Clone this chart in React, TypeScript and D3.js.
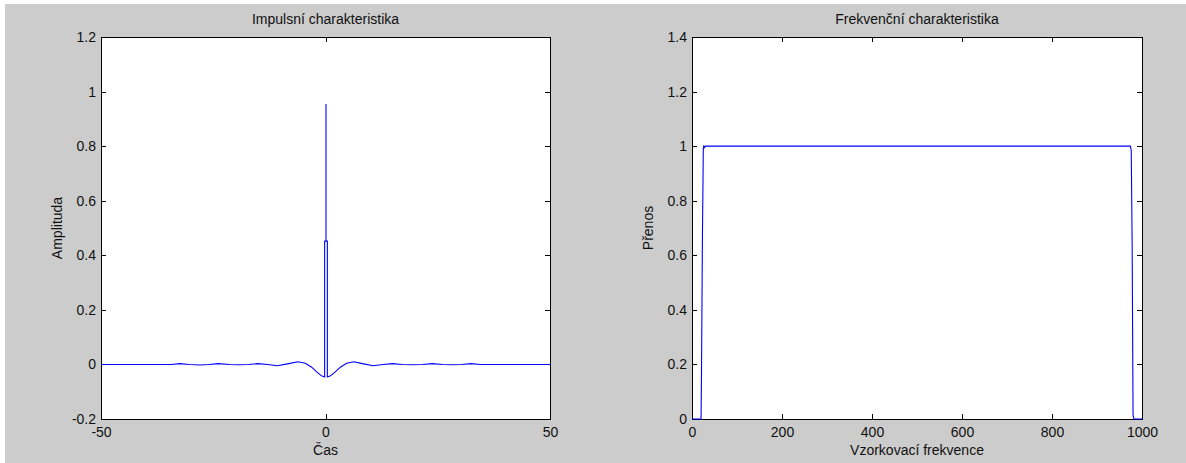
import { useEffect, useRef } from "react";
import * as d3 from "d3";

const W = 1186;
const H = 463;

// Impulsní charakteristika (time, amplitude)
const IMP_T = [
  -50, -34.5, -32.6, -30.5, -28, -26, -24, -21.5, -19.4, -17.2, -15.2, -13, -10.8, -8.6,
  -6.3, -4.6, -3.2, -2, -1, -0.3, -0.3, 0, 0, 0, 0.3, 0.3, 1, 2, 3.2, 4.6, 6.2, 8.4, 10.5,
  12.7, 14.8, 17, 19.3, 21.5, 23.7, 26, 28, 30.2, 32.3, 34.3, 50,
];
const IMP_A = [
  0, 0, 0.003, 0, -0.002, 0, 0.003, 0, -0.001, 0, 0.003, 0, -0.005, 0.002,
  0.01, 0.004, -0.01, -0.028, -0.042, -0.046, 0.452, 0.452, 0.954, 0.452, 0.452, -0.046,
  -0.042, -0.028, -0.01, 0.004, 0.01, 0.002, -0.005, 0, 0.003, 0, -0.001, 0, 0.003, 0,
  -0.001, 0, 0.003, 0, 0,
];

// Frekvenční charakteristika (frequency, transfer)
const FRQ_F = [0, 19, 20, 22, 24, 25, 27, 28, 500, 973, 975, 977, 979, 981, 983, 1000];
const FRQ_P = [0, 0, 0.17, 0.65, 0.99, 1, 0.995, 1, 1, 1, 0.985, 0.64, 0.015, 0, 0, 0];

const IMP_X_TICKS = [-50, 0, 50];
const IMP_Y_TICKS = [-0.2, 0, 0.2, 0.4, 0.6, 0.8, 1, 1.2];
const FRQ_X_TICKS = [0, 200, 400, 600, 800, 1000];
const FRQ_Y_TICKS = [0, 0.2, 0.4, 0.6, 0.8, 1, 1.2, 1.4];

const FONT = "Arial, 'Liberation Sans', Helvetica, sans-serif";
const FS = "14px";

type Panel = {
  left: number;
  right: number;
  xDomain: [number, number];
  yDomain: [number, number];
  xTicks: number[];
  yTicks: number[];
  xs: number[];
  ys: number[];
  title: string;
  xLabel: string;
  yLabel: string;
  yLabelX: number;
};

const TOP = 37;
const BOTTOM = 419;

const PANELS: Panel[] = [
  {
    left: 101,
    right: 550,
    xDomain: [-50, 50],
    yDomain: [-0.2, 1.2],
    xTicks: IMP_X_TICKS,
    yTicks: IMP_Y_TICKS,
    xs: IMP_T,
    ys: IMP_A,
    title: "Impulsní charakteristika",
    xLabel: "Čas",
    yLabel: "Amplituda",
    yLabelX: 62,
  },
  {
    left: 692,
    right: 1142,
    xDomain: [0, 1000],
    yDomain: [0, 1.4],
    xTicks: FRQ_X_TICKS,
    yTicks: FRQ_Y_TICKS,
    xs: FRQ_F,
    ys: FRQ_P,
    title: "Frekvenční charakteristika",
    xLabel: "Vzorkovací frekvence",
    yLabel: "Přenos",
    yLabelX: 653,
  },
];

export default function App() {
  const svgRef = useRef<SVGSVGElement>(null);

  useEffect(() => {
    const svg = d3.select(svgRef.current);
    if (!svg.node()) return;
    svg.selectAll("*").remove();

    svg.append("rect").attr("width", W).attr("height", H).attr("fill", "#ffffff");
    svg
      .append("rect")
      .attr("x", 5)
      .attr("y", 4)
      .attr("width", W - 5)
      .attr("height", H - 4)
      .attr("fill", "#cccccc");

    PANELS.forEach((p) => {
      const x = d3.scaleLinear().domain(p.xDomain).range([p.left, p.right]);
      const y = d3.scaleLinear().domain(p.yDomain).range([BOTTOM, TOP]);
      // curve scale nudged onto pixel centres so thin vertical strokes stay crisp
      const xc = d3.scaleLinear().domain(p.xDomain).range([p.left + 0.5, p.right + 0.5]);
      const g = svg.append("g");

      g.append("rect")
        .attr("x", p.left)
        .attr("y", TOP)
        .attr("width", p.right - p.left)
        .attr("height", BOTTOM - TOP)
        .attr("fill", "#ffffff");

      const fmt = (d: d3.NumberValue) => String(d);
      const style = (sel: d3.Selection<SVGGElement, unknown, null, undefined>) => {
        sel.select(".domain").remove();
        sel.selectAll("line").attr("stroke", "#000").attr("shape-rendering", "crispEdges");
        sel
          .selectAll("text")
          .attr("fill", "#111")
          .style("font-family", FONT)
          .style("font-size", FS);
      };

      g.append("g")
        .attr("transform", `translate(0,${BOTTOM})`)
        .call(d3.axisBottom(x).tickValues(p.xTicks).tickFormat(fmt).tickSizeInner(-5).tickSizeOuter(0).tickPadding(8))
        .call(style);
      g.append("g")
        .attr("transform", `translate(0,${TOP})`)
        .call(d3.axisTop(x).tickValues(p.xTicks).tickFormat(() => "").tickSizeInner(-5).tickSizeOuter(0))
        .call(style);
      g.append("g")
        .attr("transform", `translate(${p.left},0)`)
        .call(d3.axisLeft(y).tickValues(p.yTicks).tickFormat(fmt).tickSizeInner(-5).tickSizeOuter(0).tickPadding(5))
        .call(style);
      g.append("g")
        .attr("transform", `translate(${p.right},0)`)
        .call(d3.axisRight(y).tickValues(p.yTicks).tickFormat(() => "").tickSizeInner(-5).tickSizeOuter(0))
        .call(style);

      g.append("rect")
        .attr("x", p.left + 0.5)
        .attr("y", TOP + 0.5)
        .attr("width", p.right - p.left)
        .attr("height", BOTTOM - TOP)
        .attr("fill", "none")
        .attr("stroke", "#000")
        .attr("stroke-width", 1);

      const line = d3
        .line<number>()
        .x((_d, i) => xc(p.xs[i]))
        .y((d) => y(d));
      g.append("path")
        .datum(p.ys)
        .attr("d", line)
        .attr("fill", "none")
        .attr("stroke", "#0000ff")
        .attr("stroke-width", 1.1);

      const cx = (p.left + p.right) / 2;
      g.append("text")
        .attr("x", cx)
        .attr("y", 24)
        .attr("text-anchor", "middle")
        .attr("fill", "#111")
        .style("font-family", FONT)
        .style("font-size", FS)
        .text(p.title);
      g.append("text")
        .attr("x", cx)
        .attr("y", 455)
        .attr("text-anchor", "middle")
        .attr("fill", "#111")
        .style("font-family", FONT)
        .style("font-size", FS)
        .text(p.xLabel);
      g.append("text")
        .attr("transform", `translate(${p.yLabelX},${(TOP + BOTTOM) / 2}) rotate(-90)`)
        .attr("text-anchor", "middle")
        .attr("fill", "#111")
        .style("font-family", FONT)
        .style("font-size", FS)
        .text(p.yLabel);
    });
  }, []);

  return (
    <svg
      ref={svgRef}
      width={W}
      height={H}
      style={{ position: "absolute", left: 0, top: 0, display: "block" }}
    />
  );
}
